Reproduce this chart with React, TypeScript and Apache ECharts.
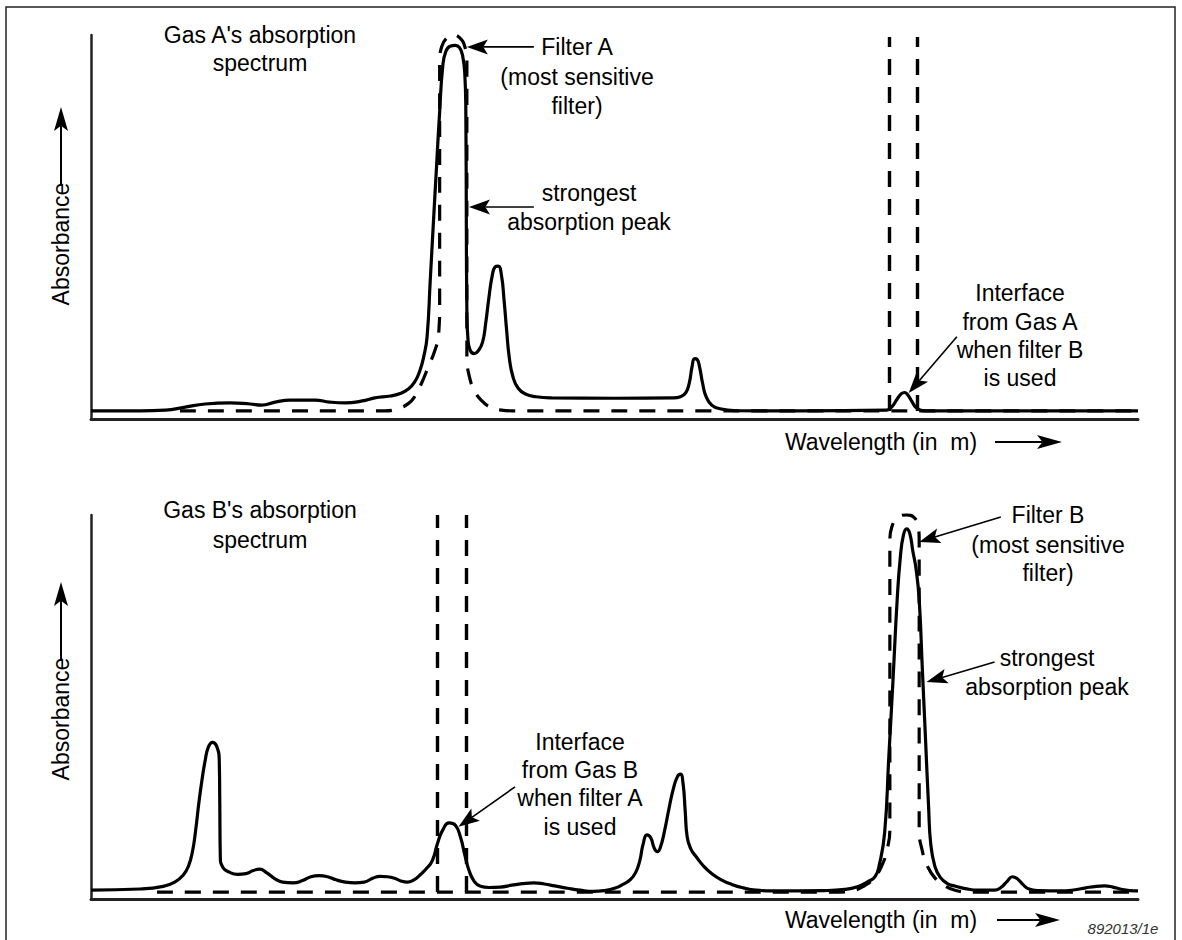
import React, { useEffect, useRef } from "react";
import * as echarts from "echarts";

// ---------- data (wavelength 0..100, absorbance 0..100) ----------
const gasASpectrum: [number, number][] = [
  [0, 2.1], [4.7, 2.1], [7.1, 2.3], [9.0, 3.1], [10.9, 3.9], [13.3, 4.2], [15.2, 3.9], [16.3, 3.6],
  [17.6, 4.4], [19.0, 4.9], [21.4, 4.9], [22.8, 4.4], [24.3, 4.2], [25.9, 4.7], [27.1, 5.5], [28.6, 6.0],
  [29.6, 6.7], [30.3, 7.8], [30.9, 9.6], [31.4, 12.5], [31.8, 16.5], [32.1, 21.4], [32.4, 36],
  [32.7, 51], [33.0, 65.6], [33.3, 80], [33.6, 92], [33.9, 95.8], [34.3, 97.1], [34.8, 97.3],
  [35.2, 96.7], [35.5, 94.5], [35.7, 90], [35.8, 80], [35.85, 50], [35.9, 28], [36.0, 21],
  [36.2, 18], [36.6, 17], [37.0, 17.8], [37.4, 20], [37.7, 25], [38.0, 31.5], [38.3, 37],
  [38.6, 39.6], [38.9, 39.8], [39.2, 37.5], [39.45, 31], [39.7, 23], [39.95, 16], [40.3, 11],
  [40.8, 8], [41.5, 6.5], [42.5, 5.8], [44, 5.5], [50, 5.4], [55.6, 5.5], [56.3, 5.8], [56.8, 6.8],
  [57.15, 9.5], [57.4, 13.5], [57.65, 15.7], [57.9, 15.5], [58.15, 13.2], [58.4, 9.5], [58.75, 5.8],
  [59.3, 3.6], [60.2, 2.6], [61.5, 2.2], [67.7, 2.1], [76.0, 2.3], [76.5, 3.2], [77.0, 5.2],
  [77.4, 6.6], [77.7, 6.9], [78.0, 6.3], [78.4, 4.6], [78.8, 3.0], [79.4, 2.2], [80.1, 2.1], [100, 2.1],
];
const filterAPassband: [number, number][] = [
  [8.5, 2.1], [28.0, 2.1], [29.2, 2.6], [30.3, 4.0], [31.0, 6.2], [31.6, 9.5], [32.2, 13.5],
  [32.8, 17.5], [33.2, 22], [33.3, 30], [33.3, 93], [33.5, 97], [34.0, 99.3], [34.6, 100],
  [35.2, 99.3], [35.7, 97], [35.9, 93], [35.9, 16], [36.1, 11.5], [36.6, 7.5], [37.3, 4.8],
  [38.2, 3.0], [39.2, 2.3], [40.5, 2.1], [100, 2.1],
];
const filterBWindowTop = [76.2, 78.9];

const gasBSpectrum: [number, number][] = [
  [0, 2.3], [4.7, 2.6], [6.9, 3.3], [8.0, 4.4], [8.8, 6.2], [9.3, 8.5], [9.7, 12.5], [10.0, 18],
  [10.3, 25], [10.6, 31], [10.9, 36], [11.2, 39.5], [11.6, 40.8], [12.0, 39.8], [12.25, 36],
  [12.3, 25], [12.35, 11], [12.6, 8.2], [13.2, 7.0], [14.0, 6.4], [14.8, 6.6], [15.5, 7.4],
  [16.1, 7.8], [16.8, 6.8], [17.5, 5.4], [18.3, 4.4], [19.3, 4.2], [20.2, 4.8], [21.0, 5.8],
  [21.8, 6.1], [22.6, 5.8], [23.4, 5.0], [24.3, 4.4], [25.2, 4.2], [26.1, 4.4], [26.9, 5.4],
  [27.6, 5.9], [28.3, 5.8], [29.0, 5.4], [29.6, 4.7], [30.2, 4.4], [30.8, 4.9], [31.4, 6.2],
  [32.0, 7.8], [32.6, 10], [33.1, 14.5], [33.6, 18], [34.2, 19.8], [34.8, 19.2], [35.3, 16],
  [35.7, 11.5], [36.1, 7.5], [36.6, 4.6], [37.2, 3.3], [38.0, 3.0], [39.1, 3.1], [40.2, 3.6],
  [41.2, 4.0], [42.3, 4.2], [43.3, 3.9], [44.3, 3.4], [45.5, 2.8], [46.7, 2.3], [48.0, 2.0],
  [49.0, 2.2], [50.0, 2.8], [50.8, 3.8], [51.5, 5.0], [52.0, 6.8], [52.4, 9.8], [52.75, 14.5],
  [53.1, 16.7], [53.45, 16.0], [53.8, 13.2], [54.1, 12.3], [54.4, 13.6], [54.8, 18.0], [55.2, 23.5],
  [55.6, 28.5], [56.0, 31.8], [56.3, 32.5], [56.55, 30], [56.75, 23], [56.95, 16], [57.3, 13],
  [57.8, 11], [58.5, 8.6], [59.3, 6.6], [60.2, 5.0], [61.2, 3.8], [62.3, 2.9], [63.5, 2.3],
  [65, 2.1], [70, 2.2], [72, 2.5], [73.2, 3.2], [74.2, 4.5], [74.9, 5.9], [75.3, 9], [75.8, 17.2],
  [76.2, 37], [76.6, 57], [77.0, 78], [77.3, 89], [77.6, 94.8], [77.9, 96.4], [78.2, 95.2],
  [78.5, 90.5], [78.8, 86], [79.1, 78], [79.4, 60], [79.7, 42], [80.0, 24], [80.2, 14.5],
  [80.6, 8.5], [81.1, 5.7], [81.8, 4.0], [82.5, 3.4], [83.5, 2.7], [84.8, 2.3], [86.3, 2.3],
  [86.9, 3.0], [87.5, 4.6], [88.0, 5.8], [88.5, 5.2], [89.0, 3.8], [89.6, 2.6], [90.5, 2.2],
  [92.6, 2.1], [94.0, 2.4], [95.0, 2.9], [96.0, 3.3], [96.8, 3.4], [97.6, 3.1], [98.3, 2.6],
  [99.2, 2.2], [100, 2.1],
];
const filterBPassband: [number, number][] = [
  [6.3, 1.8], [71.5, 1.8], [72.8, 2.2], [73.9, 3.5], [74.8, 5.5], [75.5, 8.5], [76.0, 12.5],
  [76.3, 18], [76.3, 93.5], [76.5, 97], [77.1, 99.4], [77.9, 100], [78.6, 99.4], [79.0, 97],
  [79.1, 93.5], [79.1, 18], [79.4, 12.5], [79.9, 8.5], [80.6, 5.5], [81.5, 3.5], [82.6, 2.2],
  [84, 1.8], [100, 1.8],
];
const filterAWindowBottom = [33.1, 35.8];

// annotation arrows: [tail, tip] in data coordinates
const topArrows: [number, number][][] = [
  [[42.3, 96.9], [35.9, 96.9]],
  [[42.3, 55.2], [36.1, 55.2]],
  [[82.7, 21.4], [78.1, 6.8]],
];
const bottomArrows: [number, number][][] = [
  [[40.5, 29.2], [35.1, 18.8]],
  [[86.9, 99.5], [79.1, 93.0]],
  [[86.3, 61.7], [79.8, 56.5]],
];

// text labels: [text, x, y]
const labels: [string, number, number][] = [
  ["Gas A's absorption", 260, 35], ["spectrum", 260, 63],
  ["Filter A", 577, 47], ["(most sensitive", 577, 77], ["filter)", 577, 106],
  ["strongest", 589, 193], ["absorption peak", 589, 222],
  ["Interface", 1020, 293], ["from Gas A", 1020, 322], ["when filter B", 1020, 350], ["is used", 1020, 378],
  ["Wavelength (in  m)", 881, 442],
  ["Gas B's absorption", 260, 510], ["spectrum", 260, 540],
  ["Interface", 580, 742], ["from Gas B", 580, 770], ["when filter A", 580, 798], ["is used", 580, 827],
  ["Filter B", 1048, 515], ["(most sensitive", 1048, 545], ["filter)", 1048, 573],
  ["strongest", 1047, 658], ["absorption peak", 1047, 687],
  ["Wavelength (in  m)", 881, 920],
];
const yAxisTitle = "Absorbance";
const figureId = "892013/1e";

const FONT = '23px "Liberation Sans", Arial, sans-serif';
const DASH = [16, 12];

export default function App() {
  const ref = useRef<HTMLDivElement>(null);
  useEffect(() => {
    const chart = echarts.init(ref.current!, null, { renderer: "svg", width: 1182, height: 940 });
    const xAx = (gi: number) => ({
      type: "value", gridIndex: gi, min: 0, max: 100,
      axisLine: { show: true, onZero: false, lineStyle: { color: "#222", width: 3 } },
      axisTick: { show: false }, axisLabel: { show: false }, splitLine: { show: false },
    });
    const yAx = (gi: number) => ({
      type: "value", gridIndex: gi, min: 0, max: 100,
      axisLine: { show: true, onZero: false, lineStyle: { color: "#222", width: 2.5 } },
      axisTick: { show: false }, axisLabel: { show: false }, splitLine: { show: false },
    });
    const solid = (gi: number, data: [number, number][]) => ({
      type: "line", xAxisIndex: gi, yAxisIndex: gi, data, smooth: 0.5,
      showSymbol: false, silent: true, z: 4, clip: false,
      lineStyle: { color: "#000", width: 3.2 },
    });
    const dashed = (gi: number, data: [number, number][], windowXs: number[], top: number, base: number) => ({
      type: "line", xAxisIndex: gi, yAxisIndex: gi, data, smooth: 0.5,
      showSymbol: false, silent: true, z: 3, clip: false,
      lineStyle: { color: "#000", width: 3.2, type: DASH },
      markLine: {
        silent: true, symbol: ["none", "none"], label: { show: false }, animation: false,
        emphasis: { disabled: true },
        lineStyle: { color: "#000", width: 3.4, type: DASH },
        data: windowXs.map((x) => [{ coord: [x, base] }, { coord: [x, top] }]),
      },
    });
    chart.setOption({
      animation: false,
      backgroundColor: "#fff",
      grid: [
        { left: 91, top: 35, width: 1047, height: 384 },
        { left: 91, top: 515, width: 1047, height: 384 },
      ],
      xAxis: [xAx(0), xAx(1)],
      yAxis: [yAx(0), yAx(1)],
      series: [
        solid(0, gasASpectrum),
        dashed(0, filterAPassband, filterBWindowTop, 99.5, 2.1),
        solid(1, gasBSpectrum),
        dashed(1, filterBPassband, filterAWindowBottom, 100, 1.8),
      ],
    });

    const arrowEls = (t: number[], h: number[], len = 21, hw = 7.5, lw = 1.6) => {
      const dx = h[0] - t[0], dy = h[1] - t[1];
      const L = Math.hypot(dx, dy);
      const ux = dx / L, uy = dy / L, nx = -uy, ny = ux;
      const bx = h[0] - ux * len, by = h[1] - uy * len;
      const cx = h[0] - ux * len * 0.78, cy = h[1] - uy * len * 0.78;
      return [
        { type: "line", silent: true, z: 10, shape: { x1: t[0], y1: t[1], x2: cx, y2: cy }, style: { stroke: "#000", lineWidth: lw } },
        {
          type: "polygon", silent: true, z: 10,
          shape: { points: [[h[0], h[1]], [bx + nx * hw, by + ny * hw], [cx, cy], [bx - nx * hw, by - ny * hw]] },
          style: { fill: "#000" },
        },
      ];
    };
    const graphics: any[] = [
      { type: "rect", silent: true, z: 1, shape: { x: 6, y: 7, width: 1169, height: 960 }, style: { fill: "none", stroke: "#222", lineWidth: 1.5 } },
    ];
    topArrows.forEach(([t, h]) => {
      graphics.push(...arrowEls(chart.convertToPixel({ gridIndex: 0 }, t) as number[], chart.convertToPixel({ gridIndex: 0 }, h) as number[]));
    });
    bottomArrows.forEach(([t, h]) => {
      graphics.push(...arrowEls(chart.convertToPixel({ gridIndex: 1 }, t) as number[], chart.convertToPixel({ gridIndex: 1 }, h) as number[]));
    });
    // axis title arrows
    graphics.push(...arrowEls([61, 184], [61, 107], 24, 7, 2));
    graphics.push(...arrowEls([61, 659], [61, 582], 24, 7, 2));
    graphics.push(...arrowEls([995, 442], [1062, 442], 25, 7, 2));
    graphics.push(...arrowEls([997, 920], [1060, 920], 25, 7, 2));
    labels.forEach(([text, x, y]) => {
      graphics.push({ type: "text", silent: true, z: 11, x, y, style: { text, font: FONT, fill: "#000", textAlign: "center", textVerticalAlign: "middle" } });
    });
    graphics.push({ type: "text", silent: true, z: 11, x: 61, y: 244, rotation: Math.PI / 2, style: { text: yAxisTitle, font: FONT, fill: "#000", textAlign: "center", textVerticalAlign: "middle" } });
    graphics.push({ type: "text", silent: true, z: 11, x: 61, y: 719, rotation: Math.PI / 2, style: { text: yAxisTitle, font: FONT, fill: "#000", textAlign: "center", textVerticalAlign: "middle" } });
    graphics.push({ type: "text", silent: true, z: 11, x: 1123, y: 928, style: { text: figureId, font: 'italic 15px "Liberation Sans", Arial, sans-serif', fill: "#333", textAlign: "center", textVerticalAlign: "middle" } });
    chart.setOption({ graphic: graphics });
    return () => chart.dispose();
  }, []);
  return <div ref={ref} style={{ position: "absolute", left: 0, top: 0, width: 1182, height: 940, background: "#fff" }} />;
}
